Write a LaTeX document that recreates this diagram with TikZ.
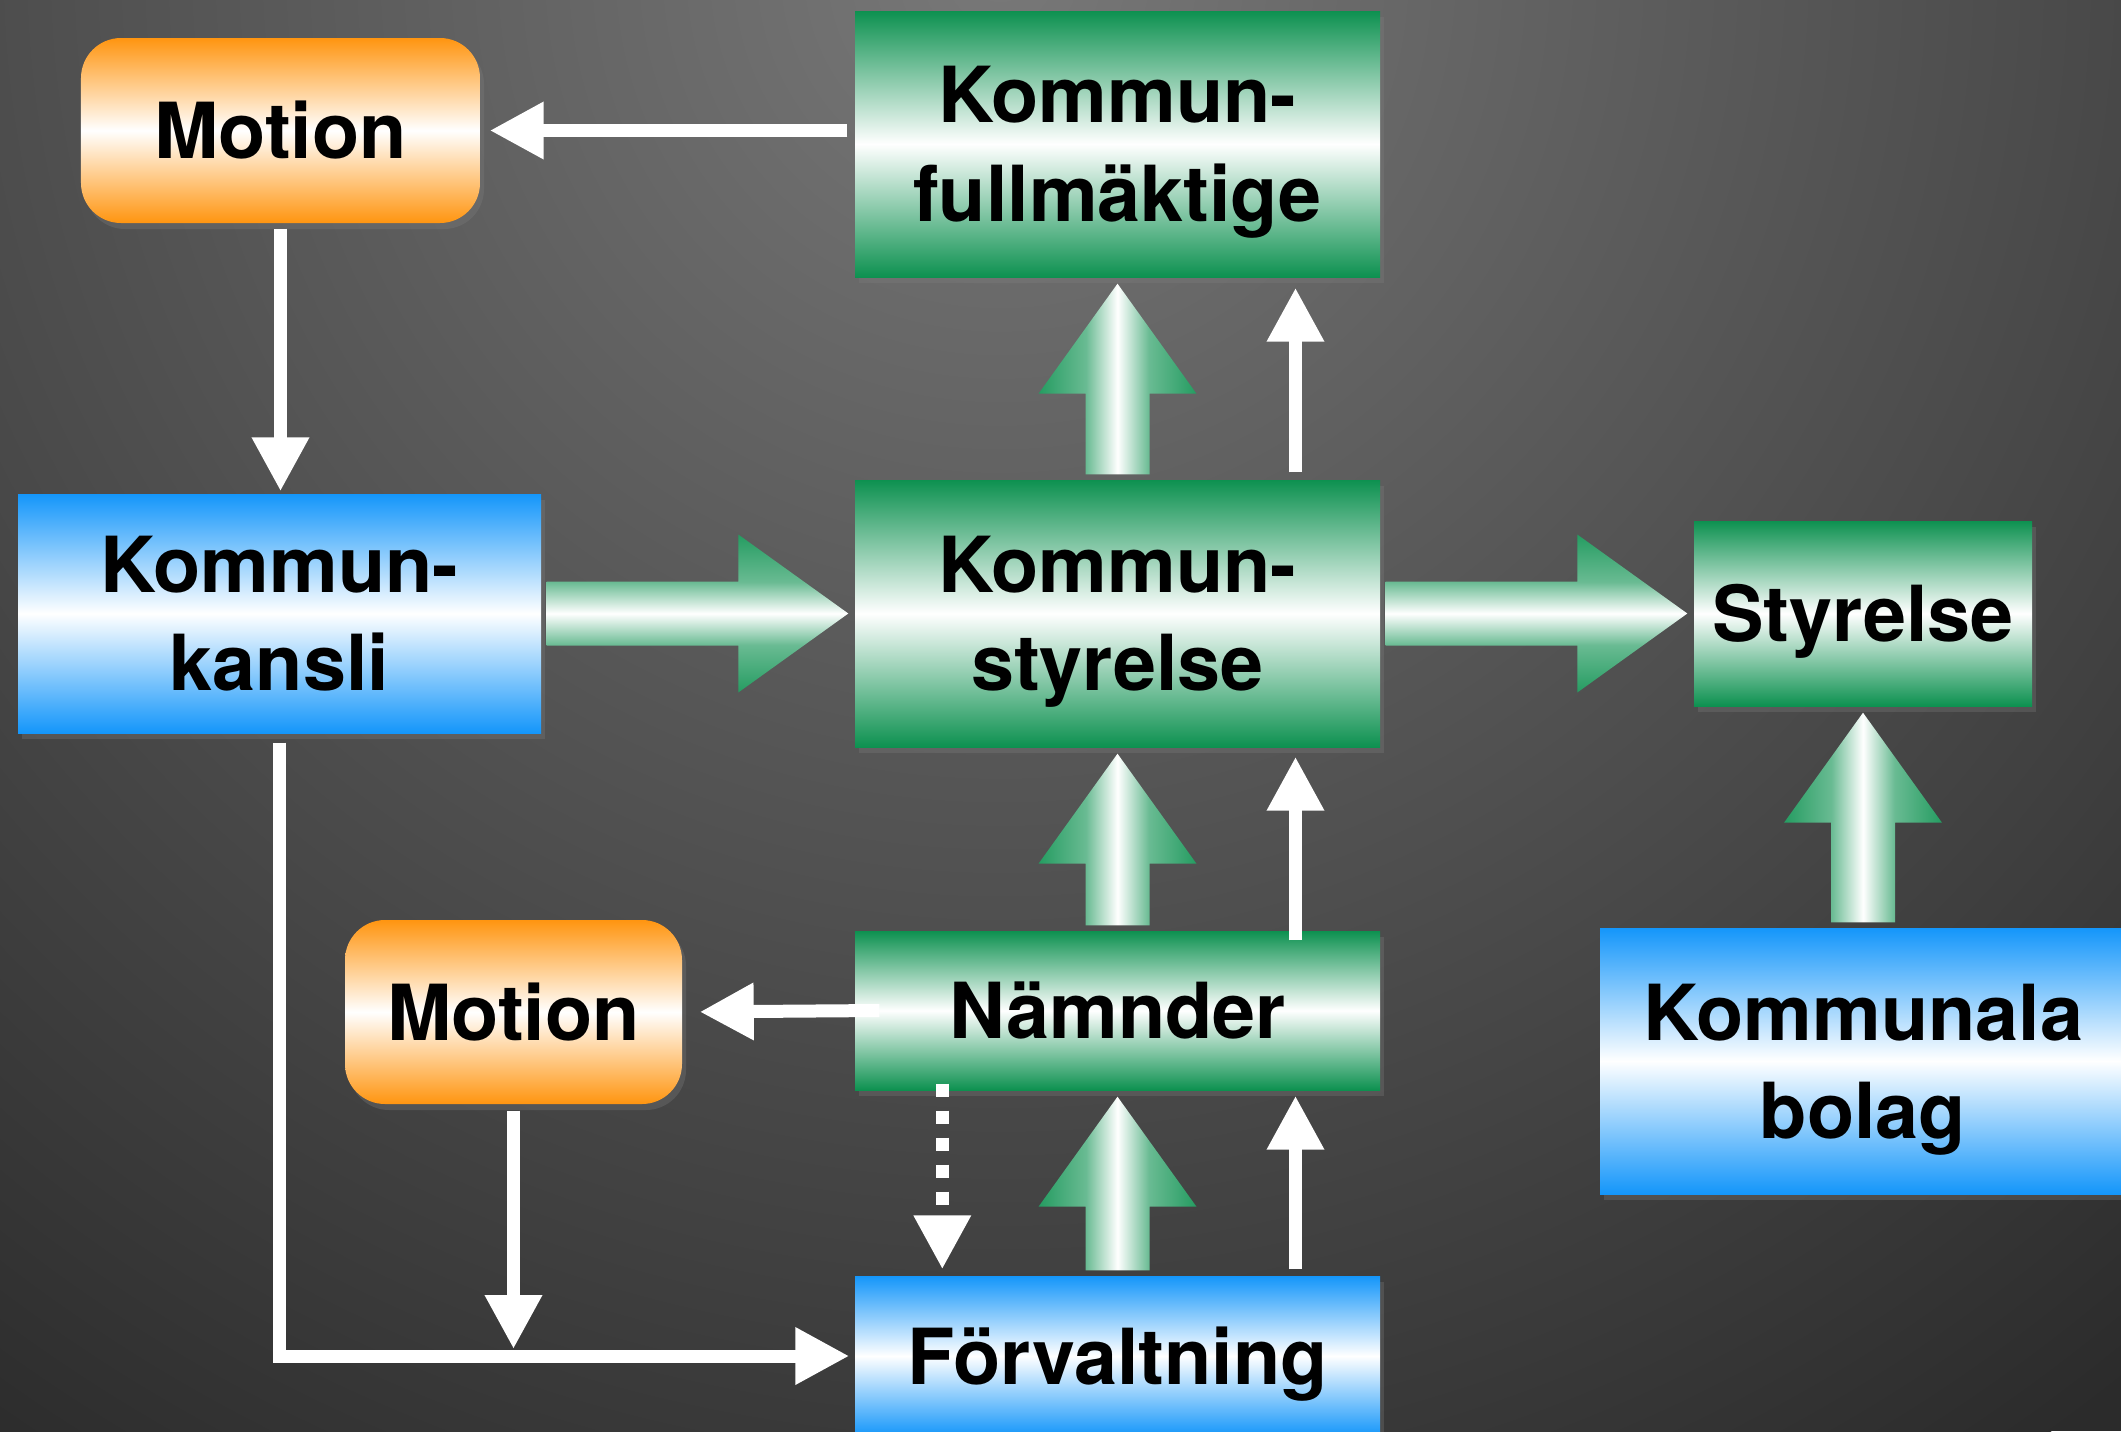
\documentclass[tikz,border=0pt]{standalone}
\usepackage{fontspec}
\setmainfont{TeX Gyre Heros}
\usepackage{tikz}
\usetikzlibrary{arrows.meta,calc,shadows}

\definecolor{kgreen}{HTML}{0D9150}
\definecolor{kblue}{HTML}{1496FA}
\definecolor{korange}{HTML}{FF9510}

\pgfdeclarehorizontalshading{fatvshade}{100bp}{color(0bp)=(kgreen); color(25bp)=(kgreen!90!white);
  color(40bp)=(kgreen!62!white); color(50bp)=(white); color(60bp)=(kgreen!62!white);
  color(75bp)=(kgreen!90!white); color(100bp)=(kgreen)}
\pgfdeclareverticalshading{fathshade}{100bp}{color(0bp)=(kgreen); color(25bp)=(kgreen!90!white);
  color(40bp)=(kgreen!62!white); color(50bp)=(white); color(60bp)=(kgreen!62!white);
  color(75bp)=(kgreen!90!white); color(100bp)=(kgreen)}

% fat shaded arrows between two anchors
\newcommand{\fatup}[2]{%
  \shade[shading=fatvshade] let \p1=(#1), \p2=(#2) in
    (\x1-0.32cm,\y1+0.05cm) -- (\x1-0.32cm,\y2-1.16cm) -- (\x1-0.79cm,\y2-1.16cm)
    -- (\x1,\y2-0.06cm) -- (\x1+0.79cm,\y2-1.16cm) -- (\x1+0.32cm,\y2-1.16cm)
    -- (\x1+0.32cm,\y1+0.05cm) -- cycle;}
\newcommand{\fatright}[2]{%
  \shade[shading=fathshade] let \p1=(#1), \p2=(#2) in
    (\x1+0.05cm,\y1+0.32cm) -- (\x2-1.16cm,\y1+0.32cm) -- (\x2-1.16cm,\y1+0.79cm)
    -- (\x2-0.06cm,\y1) -- (\x2-1.16cm,\y1-0.79cm) -- (\x2-1.16cm,\y1-0.32cm)
    -- (\x1+0.05cm,\y1-0.32cm) -- cycle;}

\begin{document}
\begin{tikzpicture}[font=\fontsize{22}{28}\selectfont\bfseries,
		box/.style={inner sep=0pt,align=center,text=black,text depth=0pt,
			drop shadow={opacity=0.3,shadow xshift=0.04,shadow yshift=-0.06}},
		oneline/.style={text height=0.56cm},
		greenbox/.style={box,top color=kgreen,bottom color=kgreen,middle color=white},
		bluebox/.style={box,top color=kblue,bottom color=kblue,middle color=white},
		motionbox/.style={box,oneline,rounded corners=0.4cm,top color=korange,bottom color=korange,middle color=white},
		wline/.style={draw=white,line width=0.13cm,-{Triangle[length=0.54cm,width=0.54cm]}}]
		
		\useasboundingbox (0,0) rectangle (21.21,-14.31);
		\begin{scope}
		\clip (0,0) rectangle (21.21,-14.31);
		\fill[black!83] (0,0) rectangle (21.21,-14.31);
		\shade[inner color=black!53,outer color=black!83] (10,0.3) circle (18);
		\end{scope}
		
		\node[motionbox,minimum width=3.99cm,minimum height=1.85cm] (mot1) at (2.805,-1.305) {Motion};
		\node[greenbox,minimum width=5.25cm,minimum height=2.66cm]  (kf)   at (11.175,-1.44) {Kommun-\\fullmäktige};
		\node[bluebox,minimum width=5.23cm,minimum height=2.39cm]   (kk)   at (2.795,-6.135) {Kommun-\\kansli};
		\node[greenbox,minimum width=5.25cm,minimum height=2.67cm]  (ks)   at (11.175,-6.135) {Kommun-\\styrelse};
		\node[greenbox,oneline,minimum width=3.38cm,minimum height=1.85cm] (sty) at (18.63,-6.135) {Styrelse};
		\node[motionbox,minimum width=3.37cm,minimum height=1.84cm] (mot2) at (5.135,-10.12) {Motion};
		\node[greenbox,oneline,minimum width=5.25cm,minimum height=1.59cm] (nam) at (11.175,-10.105) {Nämnder};
		\node[bluebox,oneline,minimum width=5.25cm,minimum height=1.6cm] (forv) at (11.175,-13.56) {Förvaltning};
		\node[bluebox,minimum width=5.26cm,minimum height=2.66cm]   (kb)   at (18.63,-10.61) {Kommunala\\bolag};
		
		\fatright{kk.east}{ks.west}
		\fatright{ks.east}{sty.west}
		\fatup{ks.north}{kf.south}
		\fatup{nam.north}{ks.south}
		\fatup{forv.north}{nam.south}
		\fatup{kb.north}{sty.south}
		
		\draw[wline,shorten <=0.07cm,shorten >=0.09cm]
		(kf.west |- mot1.east) -- (mot1.east);
		\draw[wline,shorten <=0.05cm,shorten >=0.02cm]
		(mot1.south) -- (mot1.south |- kk.north);
		\draw[wline,shorten <=0.07cm,shorten >=0.1cm]
		($(ks.north)+(1.78,0)$) -- ($(kf.south)+(1.78,0)$);
		\draw[wline,shorten >=0.09cm]
		($(nam.north)+(1.78,-0.1)$) -- ($(ks.south)+(1.78,0)$);
		\draw[wline,shorten <=0.06cm,shorten >=0.05cm]
		($(forv.north)+(1.78,0)$) -- ($(nam.south)+(1.78,0)$);
		\draw[wline,shorten >=0.17cm]
		($(nam.west)+(0.25,0)$) -- (mot2.east);
		\draw[wline,dash pattern=on 0.13cm off 0.14cm,shorten >=0.06cm]
		($(nam.south west)+(0.88,0.07)$) -- ($(forv.north west)+(0.88,0)$);
		\coordinate (join) at (mot2.south |- forv.west);
		\draw[wline,shorten <=0.06cm,shorten >=0.07cm]
		(mot2.south) -- (join);
		\draw[wline,shorten <=0.09cm,shorten >=0.05cm]
		(kk.south) |- (forv.west);
		\end{tikzpicture}
\end{document}
